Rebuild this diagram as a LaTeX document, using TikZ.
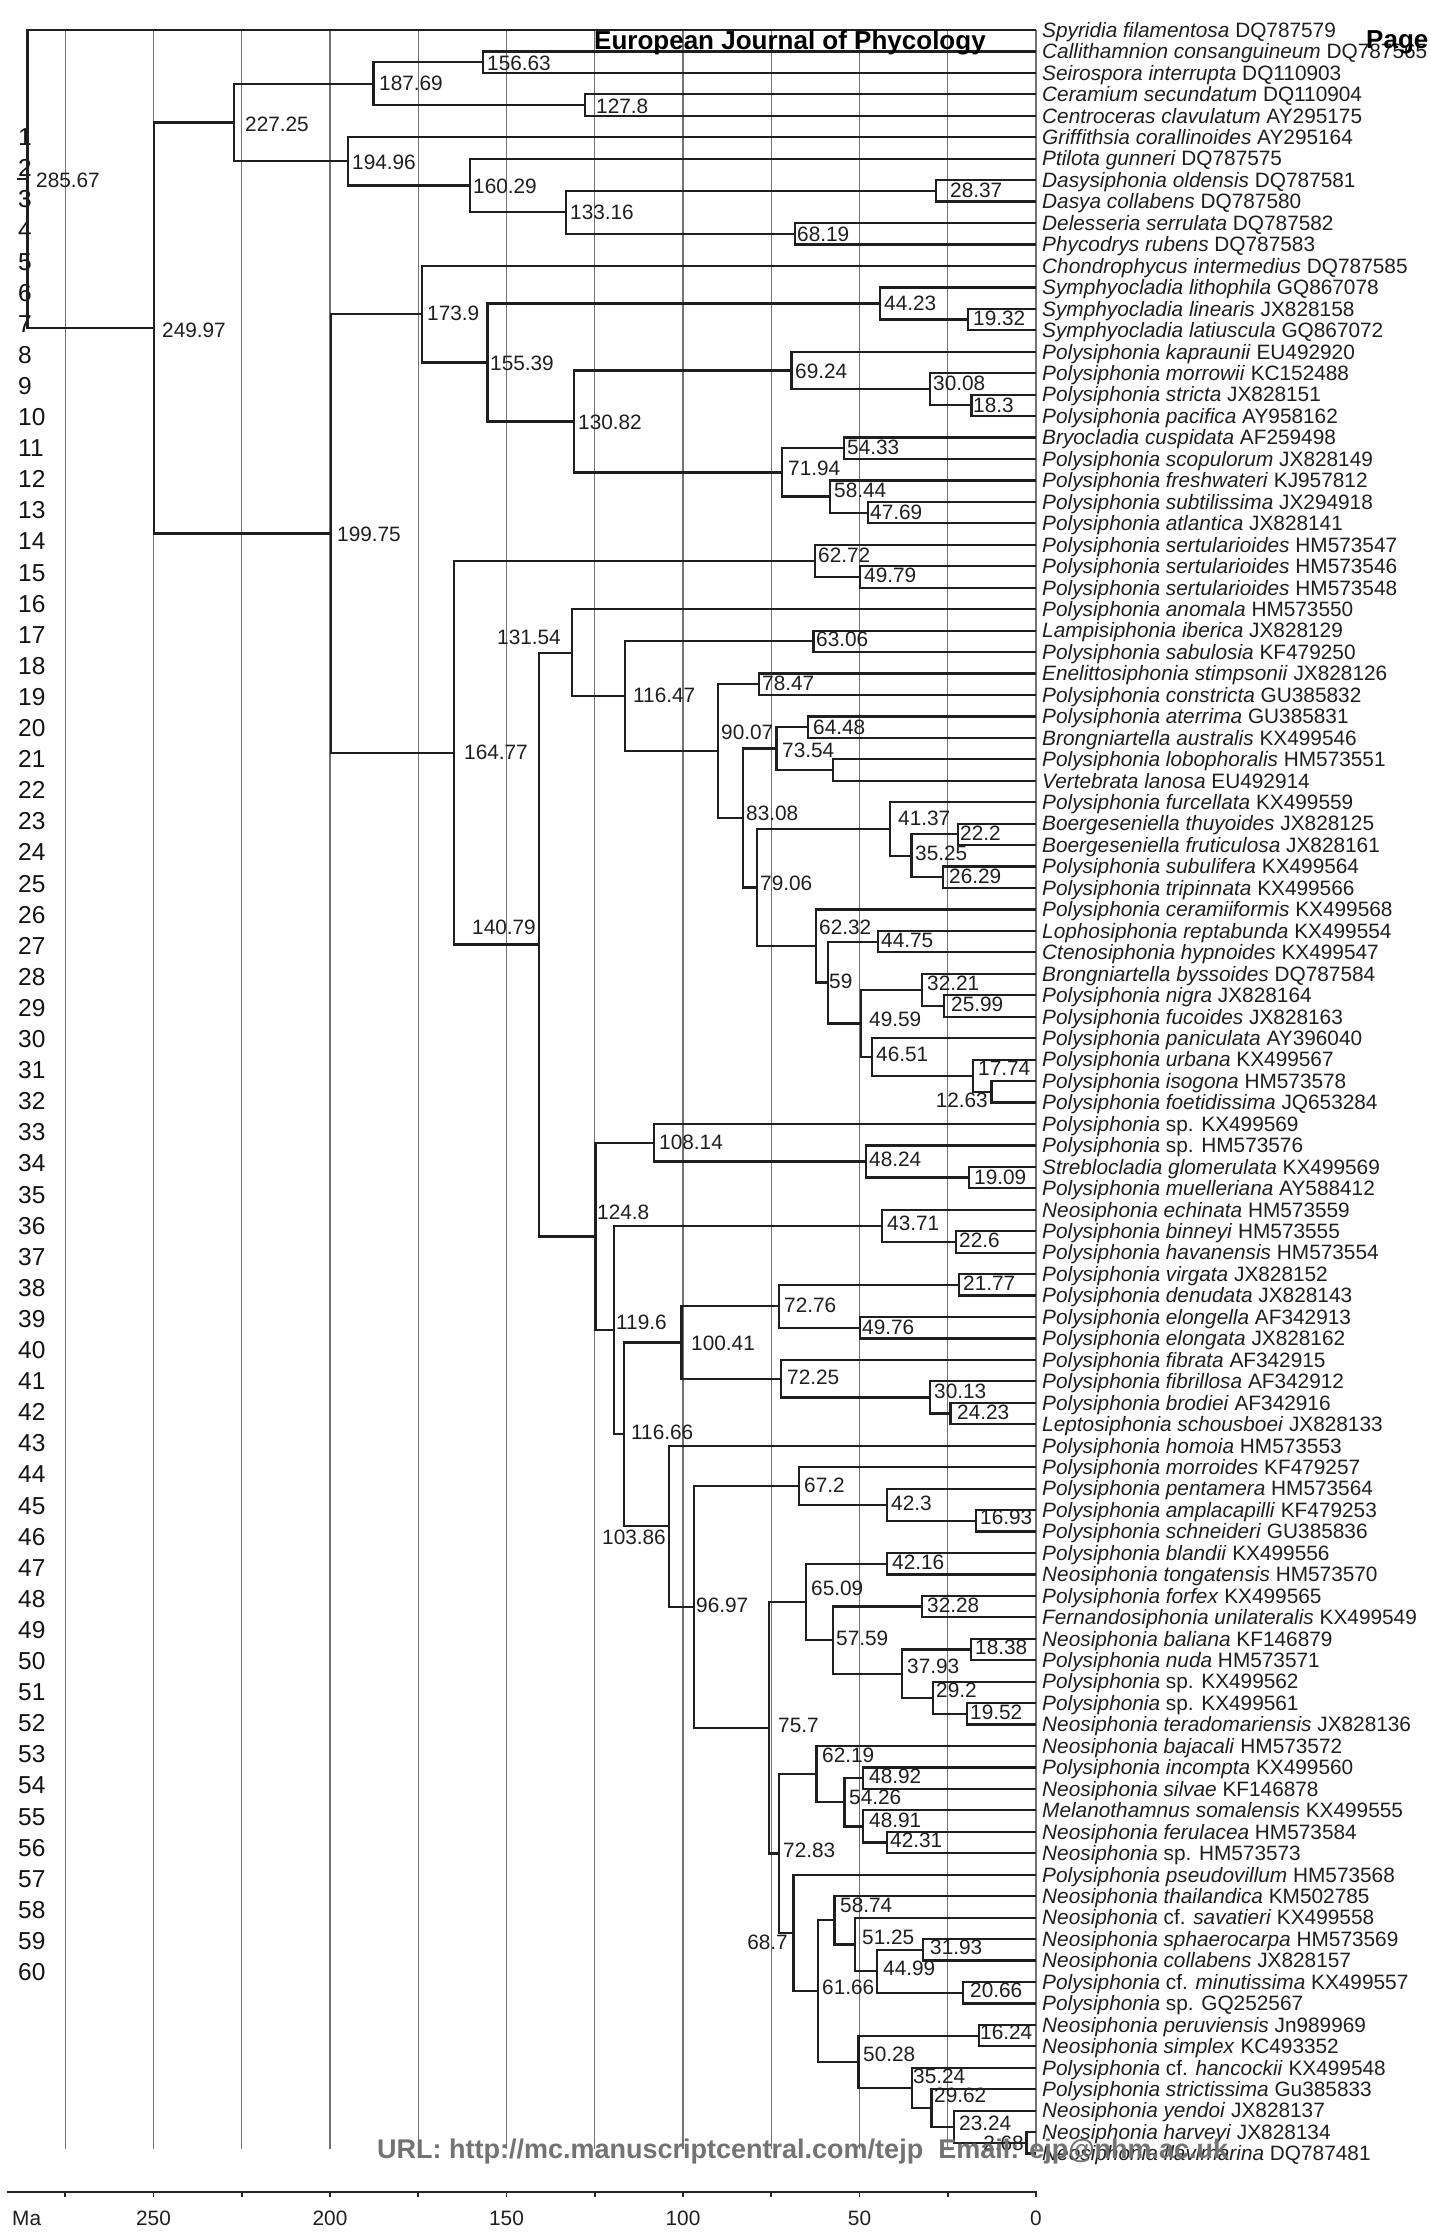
\documentclass[tikz,border=0pt]{standalone}
\usepackage{fontspec}
\setmainfont{Liberation Sans}
\usetikzlibrary{calc}
\tikzset{
 br/.style={line width=2.2pt, draw=black!88},
 gridln/.style={line width=1.1pt, draw=black!55},
 axisln/.style={line width=1.6pt, draw=black!85},
 lab/.style={font=\fontsize{20.8}{24}\selectfont, text=black!88, inner sep=0pt},
 leaf/.style={lab, anchor=base west},
 rownum/.style={font=\fontsize{24.5}{28}\selectfont, text=black!92, inner sep=0pt, anchor=base west},
 hdr/.style={font=\bfseries\fontsize{26}{30}\selectfont, inner sep=0pt, anchor=base west},
}
\newcommand\myleaf[2]{%
  \coordinate (L#1) at (1036,{30+(#1-1)*21.45});
  \node[leaf] (T#1) at (1042,{37.3+(#1-1)*21.45}) {#2};}
\newcommand\mynd[8]{%
  \path let \p1=($(#3)!0.5!(#4)$) in coordinate (#1) at ({(1036-3.53*#2)*1pt},\y1);
  \draw[br] (#3) -| (#1) |- (#4);
  \node[lab,anchor=base #7] (#1t) at (#5,{#6+7.3}) {#8};}
\newcommand\myndn[4]{%
  \path let \p1=($(#3)!0.5!(#4)$) in coordinate (#1) at ({(1036-3.53*#2)*1pt},\y1);
  \draw[br] (#3) -| (#1) |- (#4);}
\begin{document}
\begin{tikzpicture}[x=1pt,y=-1pt]
\useasboundingbox (0,0) rectangle (1429,2234);
\fill[white] (0,0) rectangle (1429,2234);
% grid
\foreach \t in {0,25,...,275}{\draw[gridln] ({1036-3.53*\t},30) -- ({1036-3.53*\t},2149);}
% axis
\draw[axisln] (7,2192) -- (1037,2192);
\foreach \t in {0,25,...,275}{\draw[axisln] ({1036-3.53*\t},2192) -- ++(0,5);}
\foreach \t in {0,50,...,250}{\node[lab,anchor=base] (ax\t) at ({1036-3.53*\t},2225.3) {\t};}
\node[lab,anchor=base west] (ma) at (12,2225.3) {Ma};
% row numbers
\foreach \n in {1,...,60}{\node[rownum] (r\n) at (18,{145.6+(\n-1)*31.1}) {\n};}
% leaves
\myleaf{1}{\textit{Spyridia filamentosa} DQ787579}
\myleaf{2}{\textit{Callithamnion consanguineum} DQ787565}
\myleaf{3}{\textit{Seirospora interrupta} DQ110903}
\myleaf{4}{\textit{Ceramium secundatum} DQ110904}
\myleaf{5}{\textit{Centroceras clavulatum} AY295175}
\myleaf{6}{\textit{Griffithsia corallinoides} AY295164}
\myleaf{7}{\textit{Ptilota gunneri} DQ787575}
\myleaf{8}{\textit{Dasysiphonia oldensis} DQ787581}
\myleaf{9}{\textit{Dasya collabens} DQ787580}
\myleaf{10}{\textit{Delesseria serrulata} DQ787582}
\myleaf{11}{\textit{Phycodrys rubens} DQ787583}
\myleaf{12}{\textit{Chondrophycus intermedius} DQ787585}
\myleaf{13}{\textit{Symphyocladia lithophila} GQ867078}
\myleaf{14}{\textit{Symphyocladia linearis} JX828158}
\myleaf{15}{\textit{Symphyocladia latiuscula} GQ867072}
\myleaf{16}{\textit{Polysiphonia kapraunii} EU492920}
\myleaf{17}{\textit{Polysiphonia morrowii} KC152488}
\myleaf{18}{\textit{Polysiphonia stricta} JX828151}
\myleaf{19}{\textit{Polysiphonia pacifica} AY958162}
\myleaf{20}{\textit{Bryocladia cuspidata} AF259498}
\myleaf{21}{\textit{Polysiphonia scopulorum} JX828149}
\myleaf{22}{\textit{Polysiphonia freshwateri} KJ957812}
\myleaf{23}{\textit{Polysiphonia subtilissima} JX294918}
\myleaf{24}{\textit{Polysiphonia atlantica} JX828141}
\myleaf{25}{\textit{Polysiphonia sertularioides} HM573547}
\myleaf{26}{\textit{Polysiphonia sertularioides} HM573546}
\myleaf{27}{\textit{Polysiphonia sertularioides} HM573548}
\myleaf{28}{\textit{Polysiphonia anomala} HM573550}
\myleaf{29}{\textit{Lampisiphonia iberica} JX828129}
\myleaf{30}{\textit{Polysiphonia sabulosia} KF479250}
\myleaf{31}{\textit{Enelittosiphonia stimpsonii} JX828126}
\myleaf{32}{\textit{Polysiphonia constricta} GU385832}
\myleaf{33}{\textit{Polysiphonia aterrima} GU385831}
\myleaf{34}{\textit{Brongniartella australis} KX499546}
\myleaf{35}{\textit{Polysiphonia lobophoralis} HM573551}
\myleaf{36}{\textit{Vertebrata lanosa} EU492914}
\myleaf{37}{\textit{Polysiphonia furcellata} KX499559}
\myleaf{38}{\textit{Boergeseniella thuyoides} JX828125}
\myleaf{39}{\textit{Boergeseniella fruticulosa} JX828161}
\myleaf{40}{\textit{Polysiphonia subulifera} KX499564}
\myleaf{41}{\textit{Polysiphonia tripinnata} KX499566}
\myleaf{42}{\textit{Polysiphonia ceramiiformis} KX499568}
\myleaf{43}{\textit{Lophosiphonia reptabunda} KX499554}
\myleaf{44}{\textit{Ctenosiphonia hypnoides} KX499547}
\myleaf{45}{\textit{Brongniartella byssoides} DQ787584}
\myleaf{46}{\textit{Polysiphonia nigra} JX828164}
\myleaf{47}{\textit{Polysiphonia fucoides} JX828163}
\myleaf{48}{\textit{Polysiphonia paniculata} AY396040}
\myleaf{49}{\textit{Polysiphonia urbana} KX499567}
\myleaf{50}{\textit{Polysiphonia isogona} HM573578}
\myleaf{51}{\textit{Polysiphonia foetidissima} JQ653284}
\myleaf{52}{\textit{Polysiphonia} sp. KX499569}
\myleaf{53}{\textit{Polysiphonia} sp. HM573576}
\myleaf{54}{\textit{Streblocladia glomerulata} KX499569}
\myleaf{55}{\textit{Polysiphonia muelleriana} AY588412}
\myleaf{56}{\textit{Neosiphonia echinata} HM573559}
\myleaf{57}{\textit{Polysiphonia binneyi} HM573555}
\myleaf{58}{\textit{Polysiphonia havanensis} HM573554}
\myleaf{59}{\textit{Polysiphonia virgata} JX828152}
\myleaf{60}{\textit{Polysiphonia denudata} JX828143}
\myleaf{61}{\textit{Polysiphonia elongella} AF342913}
\myleaf{62}{\textit{Polysiphonia elongata} JX828162}
\myleaf{63}{\textit{Polysiphonia fibrata} AF342915}
\myleaf{64}{\textit{Polysiphonia fibrillosa} AF342912}
\myleaf{65}{\textit{Polysiphonia brodiei} AF342916}
\myleaf{66}{\textit{Leptosiphonia schousboei} JX828133}
\myleaf{67}{\textit{Polysiphonia homoia} HM573553}
\myleaf{68}{\textit{Polysiphonia morroides} KF479257}
\myleaf{69}{\textit{Polysiphonia pentamera} HM573564}
\myleaf{70}{\textit{Polysiphonia amplacapilli} KF479253}
\myleaf{71}{\textit{Polysiphonia schneideri} GU385836}
\myleaf{72}{\textit{Polysiphonia blandii} KX499556}
\myleaf{73}{\textit{Neosiphonia tongatensis} HM573570}
\myleaf{74}{\textit{Polysiphonia forfex} KX499565}
\myleaf{75}{\textit{Fernandosiphonia unilateralis} KX499549}
\myleaf{76}{\textit{Neosiphonia baliana} KF146879}
\myleaf{77}{\textit{Polysiphonia nuda} HM573571}
\myleaf{78}{\textit{Polysiphonia} sp. KX499562}
\myleaf{79}{\textit{Polysiphonia} sp. KX499561}
\myleaf{80}{\textit{Neosiphonia teradomariensis} JX828136}
\myleaf{81}{\textit{Neosiphonia bajacali} HM573572}
\myleaf{82}{\textit{Polysiphonia incompta} KX499560}
\myleaf{83}{\textit{Neosiphonia silvae} KF146878}
\myleaf{84}{\textit{Melanothamnus somalensis} KX499555}
\myleaf{85}{\textit{Neosiphonia ferulacea} HM573584}
\myleaf{86}{\textit{Neosiphonia} sp. HM573573}
\myleaf{87}{\textit{Polysiphonia pseudovillum} HM573568}
\myleaf{88}{\textit{Neosiphonia thailandica} KM502785}
\myleaf{89}{\textit{Neosiphonia} cf. \textit{savatieri} KX499558}
\myleaf{90}{\textit{Neosiphonia sphaerocarpa} HM573569}
\myleaf{91}{\textit{Neosiphonia collabens} JX828157}
\myleaf{92}{\textit{Polysiphonia} cf. \textit{minutissima} KX499557}
\myleaf{93}{\textit{Polysiphonia} sp. GQ252567}
\myleaf{94}{\textit{Neosiphonia peruviensis} Jn989969}
\myleaf{95}{\textit{Neosiphonia simplex} KC493352}
\myleaf{96}{\textit{Polysiphonia} cf. \textit{hancockii} KX499548}
\myleaf{97}{\textit{Polysiphonia strictissima} Gu385833}
\myleaf{98}{\textit{Neosiphonia yendoi} JX828137}
\myleaf{99}{\textit{Neosiphonia harveyi} JX828134}
\myleaf{100}{\textit{Neosiphonia flavimarina} DQ787481}
% internal nodes
\mynd{a15663}{156.63}{L2}{L3}{487}{63}{west}{156.63}
\mynd{a1278}{127.8}{L4}{L5}{596}{106}{west}{127.8}
\mynd{a18769}{187.69}{a15663}{a1278}{379}{83}{west}{187.69}
\mynd{a2837}{28.37}{L8}{L9}{950}{190}{west}{28.37}
\mynd{a6819}{68.19}{L10}{L11}{797}{234}{west}{68.19}
\mynd{a13316}{133.16}{a2837}{a6819}{570}{212}{west}{133.16}
\mynd{a16029}{160.29}{L7}{a13316}{473}{186}{west}{160.29}
\mynd{a19496}{194.96}{L6}{a16029}{352}{162}{west}{194.96}
\mynd{a22725}{227.25}{a18769}{a19496}{245}{124}{west}{227.25}
\mynd{a1932}{19.32}{L14}{L15}{973}{318}{west}{19.32}
\mynd{a4423}{44.23}{L13}{a1932}{884}{303}{west}{44.23}
\mynd{a183}{18.3}{L18}{L19}{973}{405}{west}{18.3}
\mynd{a3008}{30.08}{L17}{a183}{933}{383}{west}{30.08}
\mynd{a6924}{69.24}{L16}{a3008}{795}{371}{west}{69.24}
\mynd{a5433}{54.33}{L20}{L21}{847}{447}{west}{54.33}
\mynd{a4769}{47.69}{L23}{L24}{870}{512}{west}{47.69}
\mynd{a5844}{58.44}{L22}{a4769}{834}{490}{west}{58.44}
\mynd{a7194}{71.94}{a5433}{a5844}{788}{468}{west}{71.94}
\mynd{a13082}{130.82}{a6924}{a7194}{578}{422}{west}{130.82}
\mynd{a15539}{155.39}{a4423}{a13082}{490}{363}{west}{155.39}
\mynd{a1739}{173.9}{L12}{a15539}{427}{313}{west}{173.9}
\mynd{a4979}{49.79}{L26}{L27}{864}{575}{west}{49.79}
\mynd{a6272}{62.72}{L25}{a4979}{818}{555}{west}{62.72}
\mynd{a6306}{63.06}{L29}{L30}{816}{639}{west}{63.06}
\mynd{a7847}{78.47}{L31}{L32}{762}{683}{west}{78.47}
\mynd{a6448}{64.48}{L33}{L34}{813}{727}{west}{64.48}
\myndn{a576}{57.6}{L35}{L36}
\mynd{a7354}{73.54}{a6448}{a576}{782}{750}{west}{73.54}
\mynd{a222}{22.2}{L38}{L39}{960}{833}{west}{22.2}
\mynd{a2629}{26.29}{L40}{L41}{949}{876}{west}{26.29}
\mynd{a3525}{35.25}{a222}{a2629}{915}{853}{west}{35.25}
\mynd{a4137}{41.37}{L37}{a3525}{898}{818}{west}{41.37}
\mynd{a4475}{44.75}{L43}{L44}{881}{940}{west}{44.75}
\mynd{a2599}{25.99}{L46}{L47}{951}{1004}{west}{25.99}
\mynd{a3221}{32.21}{L45}{a2599}{927}{983}{west}{32.21}
\mynd{a1263}{12.63}{L50}{L51}{988}{1100}{east}{12.63}
\mynd{a1774}{17.74}{L49}{a1263}{978}{1068}{west}{17.74}
\mynd{a4651}{46.51}{L48}{a1774}{876}{1054}{west}{46.51}
\mynd{a4959}{49.59}{a3221}{a4651}{869}{1019}{west}{49.59}
\mynd{a59}{59}{a4475}{a4959}{829}{981}{west}{59}
\mynd{a6232}{62.32}{L42}{a59}{819}{927}{west}{62.32}
\mynd{a7906}{79.06}{a4137}{a6232}{760}{883}{west}{79.06}
\mynd{a8308}{83.08}{a7354}{a7906}{746}{813}{west}{83.08}
\mynd{a9007}{90.07}{a7847}{a8308}{721}{732}{west}{90.07}
\mynd{a11647}{116.47}{a6306}{a9007}{633}{695}{west}{116.47}
\mynd{a13154}{131.54}{L28}{a11647}{561}{637}{east}{131.54}
\mynd{a1909}{19.09}{L54}{L55}{974}{1177}{west}{19.09}
\mynd{a4824}{48.24}{L53}{a1909}{869}{1159}{west}{48.24}
\mynd{a10814}{108.14}{L52}{a4824}{659}{1142}{west}{108.14}
\mynd{a226}{22.6}{L57}{L58}{959}{1240}{west}{22.6}
\mynd{a4371}{43.71}{L56}{a226}{887}{1223}{west}{43.71}
\mynd{a2177}{21.77}{L59}{L60}{963}{1283}{west}{21.77}
\mynd{a4976}{49.76}{L61}{L62}{862}{1327}{west}{49.76}
\mynd{a7276}{72.76}{a2177}{a4976}{784}{1305}{west}{72.76}
\mynd{a2423}{24.23}{L65}{L66}{957}{1412}{west}{24.23}
\mynd{a3013}{30.13}{L64}{a2423}{934}{1391}{west}{30.13}
\mynd{a7225}{72.25}{L63}{a3013}{787}{1377}{west}{72.25}
\mynd{a10041}{100.41}{a7276}{a7225}{691}{1343}{west}{100.41}
\mynd{a1693}{16.93}{L70}{L71}{980}{1517}{west}{16.93}
\mynd{a423}{42.3}{L69}{a1693}{891}{1503}{west}{42.3}
\mynd{a672}{67.2}{L68}{a423}{804}{1485}{west}{67.2}
\mynd{a4216}{42.16}{L72}{L73}{892}{1562}{west}{42.16}
\mynd{a3228}{32.28}{L74}{L75}{927}{1605}{west}{32.28}
\mynd{a1838}{18.38}{L76}{L77}{975}{1647}{west}{18.38}
\mynd{a1952}{19.52}{L79}{L80}{970}{1712}{west}{19.52}
\mynd{a292}{29.2}{L78}{a1952}{936}{1690}{west}{29.2}
\mynd{a3793}{37.93}{a1838}{a292}{907}{1666}{west}{37.93}
\mynd{a5759}{57.59}{a3228}{a3793}{836}{1638}{west}{57.59}
\mynd{a6509}{65.09}{a4216}{a5759}{811}{1588}{west}{65.09}
\mynd{a4892}{48.92}{L82}{L83}{869}{1776}{west}{48.92}
\mynd{a4231}{42.31}{L85}{L86}{890}{1840}{west}{42.31}
\mynd{a4891}{48.91}{L84}{a4231}{869}{1820}{west}{48.91}
\mynd{a5426}{54.26}{a4892}{a4891}{849}{1797}{west}{54.26}
\mynd{a6219}{62.19}{L81}{a5426}{822}{1755}{west}{62.19}
\mynd{a3193}{31.93}{L90}{L91}{930}{1947}{west}{31.93}
\mynd{a2066}{20.66}{L92}{L93}{970}{1990}{west}{20.66}
\mynd{a4499}{44.99}{a3193}{a2066}{883}{1968}{west}{44.99}
\mynd{a5125}{51.25}{L89}{a4499}{862}{1937}{west}{51.25}
\mynd{a5874}{57.1}{L88}{a5125}{840}{1905}{west}{58.74}
\mynd{a1624}{16.24}{L94}{L95}{980}{2032}{west}{16.24}
\mynd{a268}{2.68}{L99}{L100}{1024}{2143}{east}{2.68}
\mynd{a2324}{23.24}{L98}{a268}{959}{2123}{west}{23.24}
\mynd{a2962}{29.62}{L97}{a2324}{934}{2095}{west}{29.62}
\mynd{a3524}{35.24}{L96}{a2962}{913}{2076}{west}{35.24}
\mynd{a5028}{50.28}{a1624}{a3524}{863}{2054}{west}{50.28}
\mynd{a6166}{61.66}{a5874}{a5028}{822}{1987}{west}{61.66}
\mynd{a687}{68.7}{L87}{a6166}{788}{1942}{east}{68.7}
\mynd{a7283}{72.83}{a6219}{a687}{783}{1850}{west}{72.83}
\mynd{a757}{75.7}{a6509}{a7283}{778}{1725}{west}{75.7}
\mynd{a9697}{96.97}{a672}{a757}{696}{1605}{west}{96.97}
\mynd{a10386}{103.86}{L67}{a9697}{666}{1537}{east}{103.86}
\mynd{a11666}{116.66}{a10041}{a10386}{631}{1432}{west}{116.66}
\mynd{a1196}{119.6}{a4371}{a11666}{616}{1322}{west}{119.6}
\mynd{a1248}{124.8}{a10814}{a1196}{597}{1212}{west}{124.8}
\mynd{a14079}{140.79}{a13154}{a1248}{536}{927}{east}{140.79}
\mynd{a16477}{164.77}{a6272}{a14079}{464}{752}{west}{164.77}
\mynd{a19975}{199.75}{a1739}{a16477}{337}{534}{west}{199.75}
\mynd{a24997}{249.97}{a22725}{a19975}{162}{330}{west}{249.97}
\mynd{a28567}{285.67}{L1}{a24997}{36}{180}{west}{285.67}
\coordinate (stem) at ($(a28567)+(-11pt,0pt)$);
\draw[br] (a28567) -- (stem);
% header and footer
\node[hdr] (journal) at (594,50) {European Journal of Phycology};
\node[hdr] (page) at (1366,48.5) {Page};
\node[hdr, text=black!55, font=\bfseries\fontsize{27}{30}\selectfont] (url) at (377,2158) {URL: http://mc.manuscriptcentral.com/tejp\ \ Email: ejp@nhm.ac.uk};
\end{tikzpicture}
\end{document}
